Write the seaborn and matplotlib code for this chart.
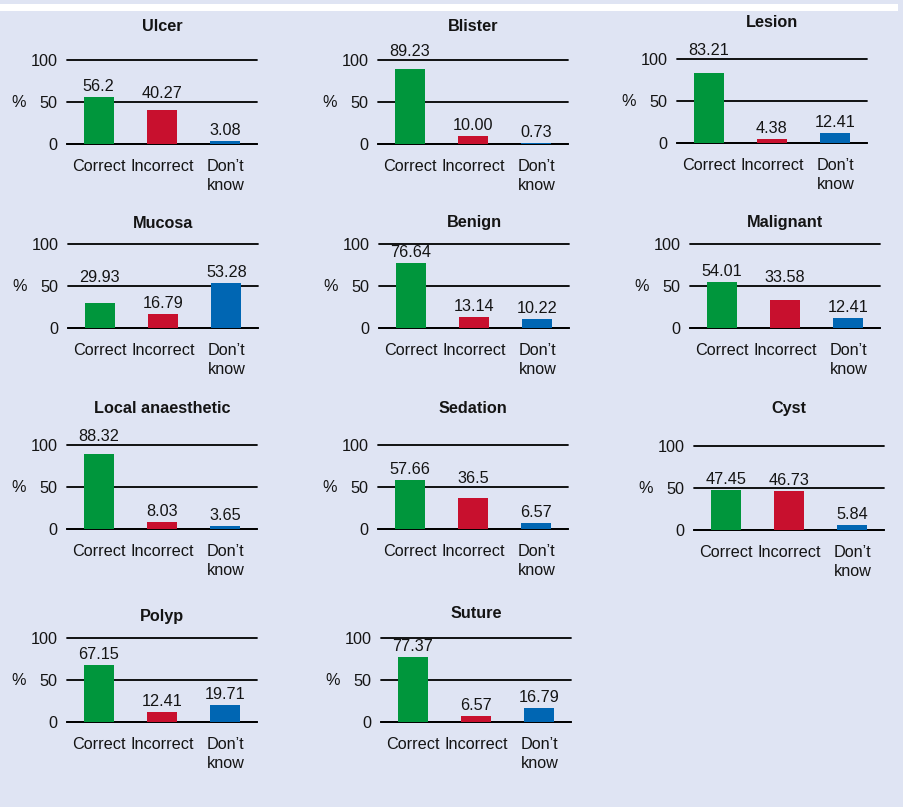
import matplotlib
matplotlib.use("Agg")
import matplotlib.pyplot as plt
from matplotlib.patches import Rectangle
import seaborn as sns
import pandas as pd

# Response categories and their colours
answers = ["Correct", "Incorrect", "Don\u2019t\nknow"]
answer_colors = ["#00963c", "#c8102e", "#0066b3"]

# Percentage of respondents per answer, as printed above each bar
terms = ["Ulcer", "Blister", "Lesion", "Mucosa", "Benign", "Malignant",
         "Local anaesthetic", "Sedation", "Cyst", "Polyp", "Suture"]
ulcer = ["56.2", "40.27", "3.08"]
blister = ["89.23", "10.00", "0.73"]
lesion = ["83.21", "4.38", "12.41"]
mucosa = ["29.93", "16.79", "53.28"]
benign = ["76.64", "13.14", "10.22"]
malignant = ["54.01", "33.58", "12.41"]
local_anaesthetic = ["88.32", "8.03", "3.65"]
sedation = ["57.66", "36.5", "6.57"]
cyst = ["47.45", "46.73", "5.84"]
polyp = ["67.15", "12.41", "19.71"]
suture = ["77.37", "6.57", "16.79"]
term_values = [ulcer, blister, lesion, mucosa, benign, malignant,
               local_anaesthetic, sedation, cyst, polyp, suture]

y_ticks = [0, 50, 100]

# Panel placement in pixels: (left edge, top edge, title baseline)
panel_layout = [
    (67, 59, 31), (378, 59, 31), (677, 58, 27),
    (68, 243, 228), (379, 243, 227), (690, 243, 227),
    (67, 444, 413), (378, 444, 413), (694, 445, 413),
    (67, 637, 621), (381, 637, 618),
]

W, H = 904, 807
AX_W, AX_H = 190, 85
BG = "#dfe4f3"
INK = "#141414"
LW = 1.3
FS = 11.7

sns.set_theme(style="white")
plt.rcParams["font.family"] = ["Liberation Sans", "DejaVu Sans"]
plt.rcParams["font.size"] = FS

fig = plt.figure(figsize=(W / 100, H / 100), dpi=100, facecolor=BG)
fig.patches.append(Rectangle((0, 1 - 11 / H), 898 / W, 7 / H,
                             transform=fig.transFigure, facecolor="white",
                             edgecolor="none", zorder=0))

px_per_unit = AX_H / 100.0

for term, vals, (left, top, title_base) in zip(terms, term_values, panel_layout):
    heights = [float(v) for v in vals]
    ax = fig.add_axes([left / W, 1 - (top + AX_H) / H, AX_W / W, AX_H / H])
    ax.set_facecolor(BG)
    df = pd.DataFrame({"answer": answers, "pct": heights})
    sns.barplot(data=df, x="answer", y="pct", hue="answer", palette=answer_colors,
                width=0.47, legend=False, ax=ax, saturation=1, linewidth=0,
                zorder=3)

    ax.set_xlim(-0.5, 2.5)
    ax.set_ylim(0, 100.6)
    ax.set_yticks(y_ticks)
    ax.set_yticklabels([str(t) for t in y_ticks], fontsize=FS, color=INK)
    ax.tick_params(axis="y", length=0, pad=7)
    ax.yaxis.grid(True, color="black", linewidth=LW)
    ax.set_axisbelow(True)
    for g in ax.get_ygridlines():
        g.set_clip_on(False)

    # boundary ticks between categories, labels at the category centres
    ax.set_xticks([-0.5, 0.5, 1.5, 2.5])
    ax.set_xticklabels([])
    ax.set_xticks([0, 1, 2], minor=True)
    ax.set_xticklabels(answers, minor=True, fontsize=FS, color=INK,
                       linespacing=1.35)
    ax.tick_params(axis="x", which="major", direction="out", length=5,
                   width=LW, color="black")
    ax.tick_params(axis="x", which="minor", length=0, pad=11)

    for side in ("top", "right", "left"):
        ax.spines[side].set_visible(False)
    ax.spines["bottom"].set_color("black")
    ax.spines["bottom"].set_linewidth(LW)
    ax.set_xlabel("")
    ax.set_ylabel("")

    ax.annotate("%", xy=(0, 0.5), xycoords="axes fraction", xytext=(-48, -1),
                textcoords="offset pixels", ha="center", va="center",
                fontsize=FS, color=INK)

    # value labels; lifted above a gridline when they would cross it
    for i, (txt, h) in enumerate(zip(vals, heights)):
        base = h + 6 / px_per_unit
        for g in (50, 100):
            if base < g < base + 13 / px_per_unit:
                base = g + 4 / px_per_unit
        ax.text(i, base, txt, ha="center", va="baseline", fontsize=FS,
                color=INK, clip_on=False)

    fig.text((left + AX_W / 2) / W, 1 - title_base / H, term, ha="center",
             va="baseline", fontsize=FS, fontweight="bold", color=INK)

fig.savefig("out.png", dpi=100, facecolor=BG)
